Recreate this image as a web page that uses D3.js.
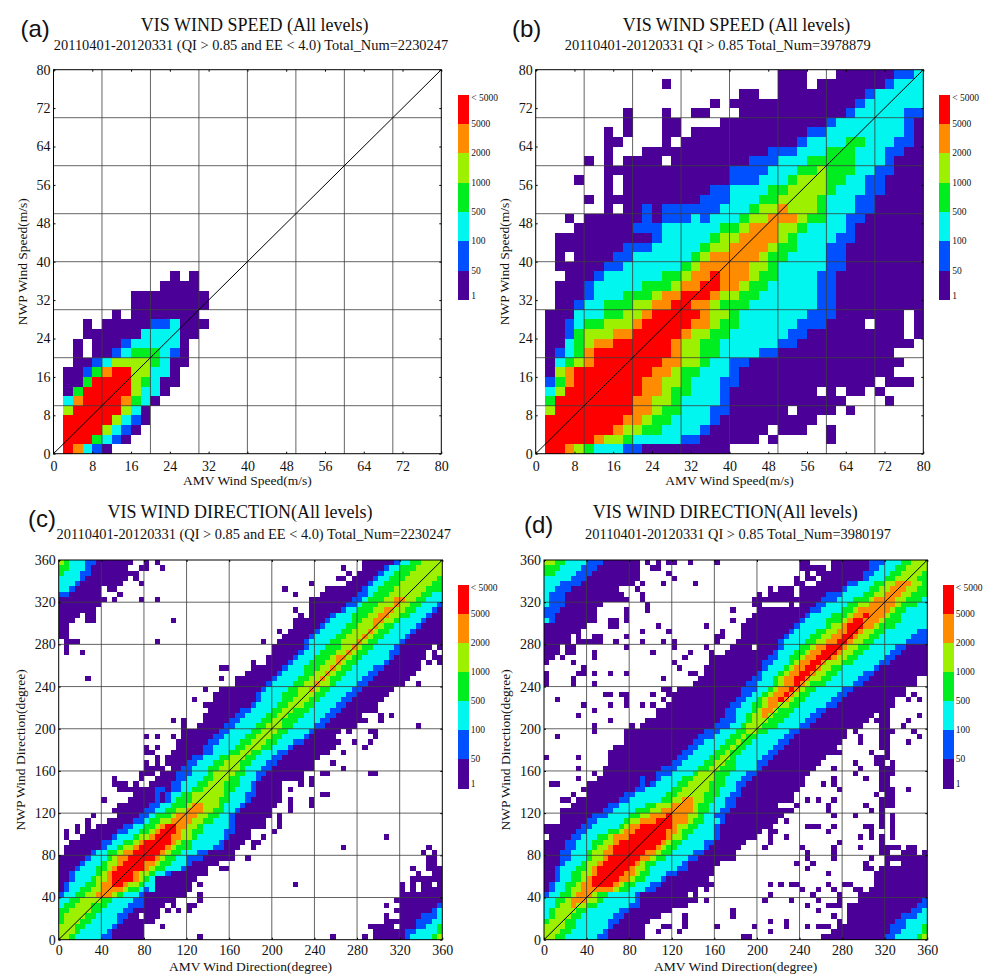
<!DOCTYPE html>
<html><head><meta charset="utf-8">
<script src="https://cdn.jsdelivr.net/npm/d3@7"></script>
<style>html,body{margin:0;padding:0;background:#fff}svg{display:block}text{font-family:"Liberation Serif",serif;fill:#111}</style>
</head><body><svg id="c" width="1008" height="978"></svg>
<script>
const levelColors = ["#4b0097","#0050ff","#00f6ee","#00ee20","#9df000","#ff8c00","#ff0000"];
const legendLabels = ["< 5000","5000","2000","1000","500","100","50","1"];
const speedTicks = [0,8,16,24,32,40,48,56,64,72,80];
const speedGrid = [10,20,30,40,50,60,70];
const dirTicks = [0,40,80,120,160,200,240,280,320,360];
// row strings, bottom row first: letter = class (a lowest .. g highest, "." empty), number = first column of that run
const speedRowsA = [
".0 g1 f2 c3 b4 a5 .6","g1 d4 c5 b6 a7 .8","g1 e5 c6 b7 a8 .9","g1 e6 c7 b8 a9 .10","e1 g2 e7 c8 a9 .10",
"c1 f2 g3 f7 d8 c9 a10 .11","a1 d2 g3 e8 c9 a11 .12","a1 d3 g4 e8 d9 c10 a11 .13","a1 b3 d4 f5 g6 e8 c10 a12 .13",
"a2 b4 c5 e6 d10 c11 a12 .14","a2 .3 a4 b6 c7 d8 c11 b12 a13 .14","a2 .3 a4 b7 c8 a13 .14","a3 c9 a13 .15",
"a3 .4 a5 b10 c12 a13 .16","a6 .7 a8 .15","a8 .16","a8 .16","a11 .15","a12 .13 a14 .15"];
const speedRowsB = [
".0 g1 f3 e4 d5 c6 b9 a11 .20","g1 f6 e7 d9 c10 b15 a17 .23 a24 .25 a30 .31","g1 f8 e9 d11 c13 b17 a18 .24 a25 .28 a30 .31",
"g1 f9 e11 d12 c14 b18 a19 .29","e1 g2 f10 e12 d13 c15 b18 a20 .26 a27 .31 a32 .33","d1 g2 f10 e12 d14 c15 b19 a20 .32 a36 .37",
"c1 e2 g3 f11 e13 d14 c16 b19 a20 .29 a30 .31 a32 .34 a35 .36","b1 d2 f3 g4 f11 e13 d15 c16 b19 a21 .35 a36 .39",
"a1 e2 f3 g4 f12 e14 d15 c17 b20 a21 .37","a1 c2 d3 e4 f5 g6 f13 e15 d17 c18 b20 a22 .38","a1 b2 c3 d4 f5 g6 f14 e15 d17 c19 b23 a25 .37",
"a1 c3 d4 e5 f6 g8 f14 e15 d17 c19 b25 a27 .39","a1 b3 d4 e5 f8 g10 f15 e16 d18 c20 b26 a28 .38 a39",
"a1 b3 c4 d5 e7 f10 g11 f16 e18 d19 c21 b27 a30 .34 a35 .38 a39","a1 c4 d7 e9 f11 g12 f17 e18 d20 c21 b28 a31 .38 a39",
"a2 b4 c5 d7 e10 f12 g14 f16 e18 d19 c22 b29 a31","a2 b5 c6 d9 e12 f13 g15 f18 e19 d21 c23 b29 a31","a2 b5 c6 d11 e14 f15 g17 f19 e21 d22 c24 b29 a31",
"a3 b6 c7 d13 e15 f16 g18 f19 e22 d23 c25 b29 a31","a2 b7 c9 d15 e16 f17 e22 d24 c25 b30 a32","a2 .3 a4 b8 c10 d16 e17 f18 e23 d24 c26 b30 a32",
"a2 b9 c12 d17 e18 f20 e24 d25 c27 b30 a32","a2 b12 c13 d18 e19 f21 e25 d26 c27 b31 a33","a4 b10 c13 d19 e21 f22 e25 d27 c28 b32 a33",
"a3 .4 a5 b11 a12 b13 c16 b17 c18 d21 e22 f24 e27 d28 c30 b32 a34","a7 .8 a9 b11 a12 b13 c19 d22 e23 f25 e26 d29 c30 b33 a35",
"a5 .6 a7 b17 c20 d23 e25 d29 c30 b33 a35","a7 .8 a9 b18 c20 d24 e26 d30 c31 b34 a36","a4 .5 a7 .8 a9 b20 c23 d26 e27 d30 c32 b34 a36",
"a7 b20 c24 d27 e29 d30 c33 b35 a37","a5 .6 a7 .8 a9 .13 a14 b22 c25 d28 c33 b36 a37","a7 .8 a11 b24 c27 d30 c33 b36 a38",
"a7 .9 a13 .14 a15 b27 c28 d32 c34 b37 a39","a7 .8 a9 .10 a13 .15 a16 b28 c30 b38 a39","a9 .10 a13 .15 a19 b30 c31 b38 a39",
"a9 .10 a13 .14 a16 .18 a21 b32 c33 b38","a18 .19 a20 b33 c34","a21 .23 a25 b34 c35","a13 .14 a25 .28 a29 b36 c37","a25 .28 a31 b37 c39"];
const dirRowsC = [
"e0 d2 c3 b8 a10 .16 a59 b65 c66 d70 e71","e0 d3 c4 b9 a10 .16 a59 b65 c67 d71","e0 d3 c5 b10 a11 .16 a59 b67 c69 d71","d0 e1 d4 c6 b11 a12 .18 a61 b67 c70",
"d0 e1 d5 c7 b11 a13 .19 a64 b68 c71","d0 e2 d6 c8 b12 a14 .19 a64 b70 c71","c0 d1 e3 d6 c9 b13 a16 .20 a64 b71","c0 d2 e4 d8 c10 b14 a16 .21 a64",
"b0 c1 d3 e5 f7 e10 d11 c12 b15 a16 .24 a65","a0 b1 c2 d4 e6 f8 e12 d13 c15 b16 c17 a18 .25 a64 .65 a66 .67 a68","a0 b1 c2 d5 e7 f8 g10 f12 e13 d15 c16 a18 .25 a64 .65 a66 .67 a68 .70 a71","a0 b2 c3 d6 e7 f9 g10 f14 e15 d16 c17 a18 .26 a66",
"a0 b2 c3 d7 e8 f9 g10 f14 e15 d17 c18 b20 a21 .27 a67 .68 a70","a0 b3 c4 d7 e9 f10 g11 f16 e17 d18 c20 b23 a24 .28 a66 .67 a69","a0 b4 c5 d8 e9 f11 g12 f16 e18 d19 c21 b24 a25 .30 a69 .71","a0 b5 c6 d9 e10 f11 g13 f18 e19 d20 c22 b24 a27 .32 a69 .71",
"a1 b6 c7 d9 e11 f12 g14 f19 e20 d21 c23 b26 a28 .33 a68 .69 a70 .71","a1 b8 c9 d11 e12 f14 g15 f20 e21 d22 c25 b29 a31 .34 a69 .70","a2 b8 c10 d12 e14 f15 g16 f21 e22 d23 c25 b30 a31 .35","a1 .2 a4 b10 c11 d14 e15 f17 g18 f21 e23 d25 c26 b31 a32 .36",
"a1 .2 a3 .4 a5 b11 c13 d15 e17 f18 g19 f22 e23 d25 c27 b31 a33 .36","a3 .4 a5 .6 a7 b12 c14 d16 e18 f19 g20 f22 e24 d26 c27 b32 a33 .37","a5 .6 a9 b14 c16 d17 e19 f21 e25 d27 c29 b32 a33 .39","a6 .7 a11 b15 c17 d18 e21 f22 e26 d28 c30 b32 a33 .40",
"a10 b16 c18 d20 e22 f24 e27 d29 c31 b33 a34 .40","a11 b17 c19 d21 e24 f25 e27 d30 c31 b34 a35 .41","a8 .9 a13 b18 a19 b20 c21 d22 e25 d30 c32 b35 a36 .42","a14 b18 a19 b20 c21 d23 e25 d31 c32 b35 a37 .42",
"a11 b18 a20 b21 c23 d25 e27 d31 c33 b36 a37 .42","a10 .13 a14 .15 a17 b21 c23 d26 e28 d31 c34 b36 a37 .42","a10 .11 a15 .16 a18 b22 c24 d27 e29 d32 c34 b37 a38 .46","a15 .18 a19 b22 c25 d28 e29 d33 c35 b37 a39 .46",
"a16 .20 a21 b23 c25 d28 e30 d34 c35 b38 a40 .48","a16 .17 a18 .19 a20 b24 c26 d29 e31 d34 c36 b39 a41 .48","a18 .19 a20 b25 c27 d30 e32 d35 c37 b40 a42 .49","a16 .18 a21 b27 c29 d32 e34 d36 c38 b41 a43 .51",
"a22 b27 c29 d33 e35 d38 c40 b43 a44 .52","a22 b28 c30 d34 e36 d39 c41 b44 a46 .52","a23 b29 c31 d35 e37 d40 c42 b46 a47 .52","a23 b30 c32 d36 e38 d41 c43 b47 a48 .53",
"a26 b31 c33 d37 e39 d42 c44 b48 a50 .56","a27 b32 c34 d38 e40 d42 c45 b49 a51 .58","a27 b33 c35 d39 e41 d43 c46 b50 a52 .57","a28 b34 c36 d40 e42 d44 c47 b51 a53 .60",
"a28 b36 c37 d41 e43 d46 c48 b52 a54 .60","a29 b37 c38 d42 e44 d47 c49 b53 a55 .61","a29 b37 c38 d42 e45 d48 c50 b54 a56 .61","a31 b38 c39 d43 e45 f47 e48 d49 c51 b55 a57 .63",
"a33 b39 c40 d44 e46 f48 e49 d51 c52 b56 a58 .65","a33 b40 c41 d45 e47 f49 e50 d51 c53 b57 a59 .66","a35 b41 c42 d46 e48 f50 e51 d52 c54 b58 a60 .67","a36 b42 c43 d46 e49 f51 e52 d53 c55 b59 a61 .68",
"a39 b43 c44 d47 e50 f52 e53 d54 c56 b61 a62 .68","a39 b44 c45 d48 e51 f52 e54 d55 c57 b62 a63 .69","a1 .2 a40 b45 c46 d49 e52 f54 e55 d56 c58 b62 a64 .69","a1 .2 a40 b46 c47 d50 e53 f55 e56 d57 c59 b63 a64 .70",
"a1 .4 a41 b46 c47 d51 e53 f56 e57 d58 c60 b64 a65","a0 .2 a42 b47 c48 d52 e54 f57 e58 d59 c61 b65 a66","a0 .2 a43 b48 c49 d53 e55 f58 e59 d60 c62 b66 a67","a0 .2 a44 b49 c50 d54 e56 f59 e60 d61 c63 b67 a68",
"a0 .3 a44 b50 c51 d55 e57 f59 e61 d63 c64 b68 a69","a0 .4 a5 .7 a47 b51 c52 d55 e58 f60 e62 d64 c66 b69 a70","a0 .7 a47 b53 c54 d56 e59 f61 e63 d65 c67 b70 a71","a0 .8 a47 b54 c56 d57 e60 f63 e64 d66 c68 b71",
"a0 .8 a48 b55 c57 d58 e61 f63 e65 d67 c69","b0 a2 .8 a49 b56 c58 d59 e62 d68 c70","c0 b2 a3 .8 a9 .11 a53 b57 c58 d60 e63 d69","c0 b3 a4 .12 a54 b58 c59 d61 e64 d70",
"c0 b4 a5 .13 a55 b59 c60 d62 e65 d71","d0 c1 b4 a6 .14 a56 b60 c61 d63 e66","d0 c2 b5 a6 .13 a57 b61 c62 d64 e67","e0 d1 c2 b5 a7 .14 a57 b63 c64 d66 e68"];
const dirRowsD = [
"e0 d2 c4 b10 a12 .19 a56 b64 c66 d70 e71","e0 d3 c5 b11 a12 .19 a56 b65 c67 d71","e0 d4 c6 b12 a13 .19 a56 b65 c68 d71","d0 e1 d4 c6 b12 a14 .20 a57 b66 c68",
"c0 d1 e2 d5 c7 b13 a15 .22 a57 b67 c70","c0 d1 e2 d6 c8 b14 a16 .24 a57 b69 c71","c0 d2 e3 f5 e6 d8 c10 b16 a18 .27 a58 b70","c0 d2 e4 f5 e8 d10 c11 b17 a18 .28 a60 b71",
"b0 c1 d3 e5 f6 e9 d10 c12 b17 a18 .27 a60","a0 b1 c2 d4 e5 f7 e13 d14 c16 b19 a21 .29 a61","a0 b1 c2 d4 e6 f7 g9 f13 e14 d15 c17 b20 a22 .31 a62","a0 b2 c3 d5 e7 f8 g9 f14 e16 d17 c19 b22 a23 .31 a62",
"a0 b2 c3 d5 e7 f9 g10 f15 e17 d18 c20 b23 a25 .32 a62","a0 b2 c3 d6 e8 f9 g10 f16 e17 d19 c20 b25 a27 .32 a63","a0 b3 c4 d7 e8 f10 g11 f17 e18 d19 c21 b26 a27 .33 a64 .65 a67","a0 b3 c5 d8 e9 f11 g12 f18 e20 d21 c23 b27 a29 .36 a64",
"a0 b3 c5 d8 e9 f11 g13 f19 e21 d22 c24 b28 a30 .36 a63 .65 a66","a0 b4 c6 d9 e10 f12 g13 f21 e22 d23 c25 b30 a31 .37 a63 .67 a68 .70","a0 b4 c6 d9 e11 f13 g14 f22 e23 d24 c26 b30 a32 .38","a1 b5 c7 d10 e12 f13 g16 f23 e24 d26 c27 b32 a33 .40",
"a0 b6 c8 d12 e14 f15 g17 f23 e25 d26 c28 b32 a33 .41","a0 b7 c9 d14 e15 f16 g18 f24 e25 d27 c29 b32 a33 .43","a3 b8 c10 d15 e16 f18 g21 f24 e27 d28 c30 b33 a34 .44","a3 b9 c12 d16 e18 f20 g23 f24 e27 d29 c30 b32 a34 .45",
"a3 b11 c13 d17 e20 f22 e28 d29 c31 b33 a35 .47","a5 b12 c14 d19 e21 f24 e28 d29 c31 b34 a36 .44","a7 b14 c16 d22 e24 f26 e28 d30 c32 b34 a36 .46","a8 b15 c17 d23 e25 d30 c33 b35 a37 .47",
"a8 b17 c19 d24 e26 d31 c33 b36 a37 .47","a8 b18 a19 b20 c21 d25 e27 d31 c34 b36 a38 .49","a10 b18 a19 b21 c22 d26 e28 d32 c34 b37 a39 .49","a11 b21 c24 d28 e29 d32 c35 b38 a40 .50",
"a11 b22 c25 d29 e31 d33 c36 b40 a41 .51","a12 b24 c26 d30 e32 d34 c36 b40 a42 .52","a12 b25 c27 d31 e33 d35 c36 b41 a43 .53","a12 b26 c28 d32 e34 d35 c37 b42 a44 .54",
"a13 b27 c29 d33 e35 d36 c38 b43 a45 .55","a15 b28 c30 d34 e36 d37 c39 b44 a46 .56","a15 b29 c32 d35 e37 d38 c40 b45 a47 .57","a16 b30 c33 d36 e38 d40 c42 b46 a48 .57",
"a19 b32 c35 d37 e38 d41 c44 b48 a50 .60","a20 b33 c36 d38 e39 d42 c45 b49 a51 .61","a21 b34 c36 d38 e39 f41 e42 d43 c46 b50 a52 .61","a21 b34 c36 d39 e40 f41 e43 d44 c47 b51 a53 .64",
"a23 b35 c37 d39 e41 f42 e44 d46 c48 b53 a55 .66","a24 b36 c38 d40 e41 f42 g44 f45 e46 d47 c49 b54 a56 .66","a24 b37 c39 d41 e42 f43 g45 f46 e47 d48 c50 b55 a57 .67","a26 b37 c40 d42 e43 f44 g46 f47 e48 d49 c51 b56 a58 .68",
"a28 b38 c40 d43 e44 f45 g47 f48 e49 d50 c53 b58 a60 .70","a29 b39 c41 d43 e44 f45 g47 f49 e50 d52 c54 b59 a61 .70","a30 b40 c41 d44 e45 f46 g48 f50 e51 d53 c55 b60 a62","a30 b41 c42 d45 e46 f47 g49 f51 e52 d54 c56 b62 a63",
"a0 .1 a31 b41 c43 d46 e47 f48 g50 f52 e53 d56 c58 b63 a65","a0 .2 a31 b42 c44 d46 e48 f49 g51 f54 e55 d57 c59 b64 a66","a0 .3 a4 .6 a34 b43 c44 d47 e49 f50 g52 f55 e56 d58 c60 b65 a67","a0 .3 a4 .6 a35 b44 c45 d48 e50 f51 g53 f56 e57 d59 c61 b66 a68",
"a0 .5 a6 .8 a36 b44 c45 d49 e51 f53 g55 f57 e58 d60 c62 b68","a0 .5 a6 .7 a37 b45 c46 d50 e52 f54 g56 f58 e59 d61 c63 b69","a0 .7 a37 b46 c47 d51 e53 f55 g57 f59 e60 d62 c64 b70","a0 .8 a37 b47 c48 d53 e54 f56 g57 f60 e62 d63 c66",
"c0 b1 a2 .10 a38 b48 c49 d53 e56 f57 g58 f60 e63 d64 c67","b0 a2 .10 a39 b49 c50 d54 e57 f58 g60 f61 e64 d65 c67","b0 a3 .10 a40 b50 c52 d56 e58 f59 e65 d66 c68","c0 b1 a4 .11 a39 .41 a46 b51 c53 d57 e59 f61 e66 d67 c70",
"c0 b1 a4 .16 a39 b52 c55 d58 e61 f62 e66 d68 c71","c0 b1 a4 .15 a42 b53 c56 d60 e62 f64 e67 d69","c0 b2 a5 .15 a45 b56 c57 d61 e63 f65 e68 d70","c0 b3 a7 .16 a47 b57 c59 d62 e64 f66 e69 d71",
"c0 b5 a8 .18 a47 b60 c61 d64 e66 d70","d0 c2 b6 a9 .18 a48 b60 c62 d65 e67 d71","d0 c3 b7 a10 .18 a48 b61 c63 d66 e68","e0 d2 c4 b8 a11 .18 a48 b61 c64 d67 e69"];
// isolated lowest-class cells [column,row]
const dotsC = [[26,0],[51,0],[57,0],[15,64],[18,64],[21,60],[18,56],[4,54],[5,49],[1,54],[11,65],[10,64],[8,64],[5,60],[6,60],[15,70],[16,70],[16,71],[19,70],[18,71],[14,69],[14,68],[15,67],
[53,70],[54,69],[52,68],[53,68],[51,66],[52,66],[50,66],[50,64],[47,67],[44,65],[42,66],[47,64],[47,63],[44,62],[45,61],[45,60],[46,60],[41,58],[38,56],[36,52],[48,62],[49,62],[50,63],[50,62],
[30,51],[31,51],[30,49],[27,47],[30,47],[25,45],[27,44],[31,45],[31,44],[29,42],[27,42],[21,41],[23,41],[23,40],[16,38],[18,38],[21,38],[16,36],[18,36],[18,34],[20,34],[16,33],[16,31],
[26,10],[27,12],[26,8],[26,7],[25,6],[24,6],[24,5],[22,5],[21,8],[21,7],[21,6],[20,5],[20,8],[19,2],[30,13],[31,13],[32,15],[35,15],[36,17],
[50,35],[53,35],[51,33],[53,32],[49,31],[50,31],[58,31],[59,31],[47,30],[47,29],[45,29],[43,28],[49,27],[50,27],[47,26],[47,25],[43,26],[43,25],[43,24],[41,23],[41,22],[41,21],[40,20],[38,21],[37,21],[38,19],[36,18],[37,18],[61,19],[53,17],[44,10],
[67,48],[62,42],[60,42],[60,41],[67,40],[61,46],[58,39],[59,39],[59,38],[57,36],[57,44],[55,43],[56,41],[55,37],[54,39],[52,37],[58,37],
[67,51],[71,52],[71,53],[68,54],[70,54],[71,56],[71,55],[70,53],[69,52],[58,2],[61,4],[61,6],[63,7],[63,5],[64,8]];
const dotsD = [[19,71],[21,71],[23,71],[24,71],[27,71],[32,71],[20,70],[21,70],[23,69],[24,68],[22,67],[28,67],[16,67],[18,67],[17,66],[18,65],[18,64],
[15,62],[19,63],[19,62],[15,61],[12,60],[13,60],[12,59],[15,60],[13,59],[21,59],[30,59],[23,58],[18,58],[15,57],[9,57],[10,57],[10,56],[8,56],[9,56],[13,56],[18,56],[22,56],[24,56],[24,55],[32,57],[33,57],[33,58],[32,56],
[35,62],[35,60],[35,55],[30,55],[31,54],[33,53],[27,54],[26,53],[15,55],[20,54],[9,54],[9,53],[24,52],[25,51],[27,50],[28,50],[29,49],[12,50],[15,50],[7,51],[6,50],[7,50],[9,50],[5,49],[5,48],[9,48],[22,49],[0,50],[0,49],[0,48],[3,53],[5,52],
[22,47],[23,47],[25,47],[23,46],[26,46],[20,46],[12,46],[14,46],[11,46],[15,46],[15,45],[22,45],[23,44],[12,44],[15,44],[18,44],[20,44],[7,44],[2,45],[9,43],[6,42],[12,41],[9,40],[9,39],[2,38],[16,40],[16,39],[18,40],[15,39],[19,41],
[0,34],[6,34],[6,32],[9,31],[6,30],[2,29],[1,29],[7,28],[9,28],[5,27],[3,26],[4,26],[6,26],
[42,66],[44,66],[40,65],[39,64],[42,62],[40,60],[38,59],
[54,35],[55,35],[61,35],[58,33],[59,32],[58,31],[60,30],[54,32],[62,34],[54,30],[54,29],[55,28],[52,29],[51,26],[54,26],[47,28],[46,26],[47,25],[49,26],[60,25],[62,27],[68,28],[53,25],[53,24],[54,23],[58,23],[61,24],[45,24],[45,22],[42,21],[42,20],[43,20],[45,19],[42,19],[42,18],[41,17],
[49,21],[50,21],[51,21],[53,20],[54,21],[60,21],[61,21],[61,20],[61,19],[59,19],[59,17],[55,18],[48,17],[54,17],[54,16],[54,15],[49,16],[49,15],[50,14],[47,14],[49,13],[53,12],[61,15],[60,14],[60,13],[61,13],[62,12],
[44,10],[42,10],[46,10],[47,10],[42,8],[41,7],[46,7],[48,9],[51,9],[53,10],[54,9],[50,8],[51,7],[49,6],[55,8],[55,7],[56,10],[57,10],[58,9],[59,9],[59,8],[57,6],[57,5],[59,7],
[51,5],[53,6],[54,6],[55,6],[54,4],[55,3],[55,2],[53,2],[51,2],[52,2],[49,2],[45,3],[45,2],[42,3],[42,1],[39,2],[38,0],[52,0],[53,0],[54,1],[55,1],[55,0],[54,0],[56,2],[57,2],[56,1],[35,5],[35,4],[32,2],[26,4],[26,3],[25,1],[19,3],[22,2],[21,1],[23,2],[26,2],[37,0],[30,7],[28,8],[28,7],[31,10],[30,9],
[69,46],[70,45],[67,46],[68,45],[70,42],[59,41],[58,39],[59,38],[59,37],[55,37],[68,37],[65,39],[67,40],[70,38],[69,39],[62,41],[61,42],[68,41]];
// vertical runs of lowest-class cells [column,firstRow,lastRow]
const stripesD = [[63,32,34],[63,28,31],[63,21,26],[63,17,19],[64,34,35],[64,29,32],[64,25,28],[64,36,43],[63,36,43],[65,31,33],[65,27,28],[65,25,26],[65,19,23],[62,33,33],[62,27,27],[63,44,45]];
// empty cells inside filled areas [column,row]
const holesC = [[15,4],[63,2],[65,10]];
const holesD = [[48,69],[50,69],[48,68],[51,68],[50,67],[49,67],[47,66],[53,70],[50,71],[51,71],[52,71],[53,71],[47,65],[47,63],[39,55],[14,66],[0,19],[70,16],[66,16],[66,14],[65,14]];

const panels = [
 {rows:speedRowsA,n:40,bin:2,max:80,ticks:speedTicks,grid:speedGrid,dots:[],stripes:[],holes:[],l:53.5,r:441.3,t:69.7,b:453.7,pad:7,title:"VIS WIND SPEED (All levels)",tx:254.7,ty:31,sub:"20110401-20120331 (QI > 0.85 and EE < 4.0) Total_Num=2230247",sx:251,sy:50,tag:"(a)",gx:20.5,gy:37,xl:"AMV Wind Speed(m/s)",yl:"NWP Wind Speed(m/s)",ylx:22,xly:485,cb:[458.3,94.7,205.3]},
 {rows:speedRowsB,n:40,bin:2,max:80,ticks:speedTicks,grid:speedGrid,dots:[],stripes:[],holes:[],l:535.7,r:923.3,t:69.7,b:453.7,pad:7,title:"VIS WIND SPEED (All levels)",tx:736.5,ty:31,sub:"20110401-20120331 QI > 0.85 Total_Num=3978879",sx:717.7,sy:50,tag:"(b)",gx:512,gy:37,xl:"AMV Wind Speed(m/s)",yl:"NWP Wind Speed(m/s)",ylx:504,xly:485,cb:[939.3,94.7,205.3]},
 {rows:dirRowsC,n:72,bin:5,max:360,ticks:dirTicks,grid:dirTicks.slice(1,-1),dots:dotsC,stripes:[],holes:holesC,l:58.7,r:442.3,t:560,b:939.7,pad:5,title:"VIS WIND DIRECTION(All levels)",tx:240,ty:518,sub:"20110401-20120331 (QI > 0.85 and EE < 4.0) Total_Num=2230247",sx:253.7,sy:539,tag:"(c)",gx:28,gy:527,xl:"AMV Wind Direction(degree)",yl:"NWP Wind Direction(degree)",ylx:20.5,xly:970.5,cb:[457.7,585,203.3]},
 {rows:dirRowsD,n:72,bin:5,max:360,ticks:dirTicks,grid:dirTicks.slice(1,-1),dots:dotsD,stripes:stripesD,holes:holesD,l:544,r:927.3,t:560,b:939.7,pad:5,title:"VIS WIND DIRECTION(All levels)",tx:725.3,ty:518,sub:"20110401-20120331 QI > 0.85 Total_Num=3980197",sx:738,sy:539,tag:"(d)",gx:524,gy:533,xl:"AMV Wind Direction(degree)",yl:"NWP Wind Direction(degree)",ylx:505,xly:970.5,cb:[942.7,585,203.3]}
];
const svg = d3.select("#c");
const levelOf = c => "abcdefg".indexOf(c);
panels.forEach(p=>{
  const x = d3.scaleLinear().domain([0,p.max]).range([p.l,p.r]);
  const y = d3.scaleLinear().domain([0,p.max]).range([p.b,p.t]);
  const g = svg.append("g");
  const cells = [];
  p.rows.forEach((s,row)=>{
    const segs = [...s.matchAll(/([.a-g])(\d+)/g)].map(m=>({c:m[1],s:+m[2]}));
    segs.forEach((seg,i)=>{
      if(seg.c===".")return;
      const e = i+1<segs.length?segs[i+1].s:p.n;
      if(e>seg.s)cells.push({row,c0:seg.s,c1:e,fill:levelColors[levelOf(seg.c)]});
    });
  });
  p.dots.forEach(d=>cells.push({row:d[1],c0:d[0],c1:d[0]+1,fill:levelColors[0]}));
  p.stripes.forEach(st=>d3.range(st[1],st[2]+1).forEach(r=>cells.push({row:r,c0:st[0],c1:st[0]+1,fill:levelColors[0]})));
  p.holes.forEach(d=>cells.push({row:d[1],c0:d[0],c1:d[0]+1,fill:"#fff"}));
  g.selectAll("rect.cell").data(cells).join("rect").attr("class","cell")
    .attr("x",d=>x(d.c0*p.bin)).attr("width",d=>x(d.c1*p.bin)-x(d.c0*p.bin))
    .attr("y",d=>y((d.row+1)*p.bin)).attr("height",d=>y(d.row*p.bin)-y((d.row+1)*p.bin))
    .attr("fill",d=>d.fill).attr("shape-rendering","crispEdges");
  g.selectAll("line.v").data(p.grid).join("line").attr("x1",x).attr("x2",x).attr("y1",p.t).attr("y2",p.b).attr("stroke","#3c3c3c").attr("stroke-width",0.8);
  g.selectAll("line.h").data(p.grid).join("line").attr("y1",y).attr("y2",y).attr("x1",p.l).attr("x2",p.r).attr("stroke","#3c3c3c").attr("stroke-width",0.8);
  g.append("line").attr("x1",x(0)).attr("y1",y(0)).attr("x2",x(p.max)).attr("y2",y(p.max)).attr("stroke","#000").attr("stroke-width",1);
  g.append("rect").attr("x",p.l).attr("y",p.t).attr("width",p.r-p.l).attr("height",p.b-p.t).attr("fill","none").attr("stroke","#000").attr("stroke-width",1);
  const ax = g.append("g").attr("transform",`translate(0,${p.b})`).call(d3.axisBottom(x).tickValues(p.ticks).tickFormat(d3.format("d")).tickSize(-2).tickPadding(p.pad));
  const ay = g.append("g").attr("transform",`translate(${p.l},0)`).call(d3.axisLeft(y).tickValues(p.ticks).tickFormat(d3.format("d")).tickSize(-2).tickPadding(3));
  const at = g.append("g").attr("transform",`translate(0,${p.t})`).call(d3.axisTop(x).tickValues(p.ticks).tickFormat("").tickSize(-2));
  const ar = g.append("g").attr("transform",`translate(${p.r},0)`).call(d3.axisRight(y).tickValues(p.ticks).tickFormat("").tickSize(-2));
  [ax,ay,at,ar].forEach(a=>{a.select(".domain").remove();a.selectAll("line").attr("stroke","#000");a.selectAll("text").attr("font-family","Liberation Serif").attr("font-size",14).attr("fill","#111");});
  g.append("text").attr("x",p.tx).attr("y",p.ty).attr("text-anchor","middle").attr("font-size",18).text(p.title);
  g.append("text").attr("x",p.sx).attr("y",p.sy).attr("text-anchor","middle").attr("font-size",14.4).text(p.sub);
  g.append("text").attr("x",p.gx).attr("y",p.gy).attr("font-size",24).style("font-family","Liberation Sans").text(p.tag);
  g.append("text").attr("x",(p.l+p.r)/2).attr("y",p.xly).attr("text-anchor","middle").attr("font-size",13.5).text(p.xl);
  g.append("text").attr("transform",`translate(${p.ylx},${(p.t+p.b)/2}) rotate(-90)`).attr("text-anchor","middle").attr("dy","0.35em").attr("font-size",13.5).text(p.yl);
  const [cx,cy,ch] = p.cb, bh = ch/7;
  const ramp = levelColors.slice().reverse();
  g.selectAll("rect.leg").data(ramp).join("rect").attr("x",cx).attr("width",11).attr("y",(d,i)=>cy+i*bh).attr("height",bh+0.3).attr("fill",d=>d).attr("shape-rendering","crispEdges");
  g.selectAll("text.leg").data(legendLabels).join("text").attr("x",cx+13).attr("y",(d,i)=>cy+i*bh+(i===7?-1:i===0?6:3)).attr("font-size",9.5).text(d=>d);
});
</script></body></html>
